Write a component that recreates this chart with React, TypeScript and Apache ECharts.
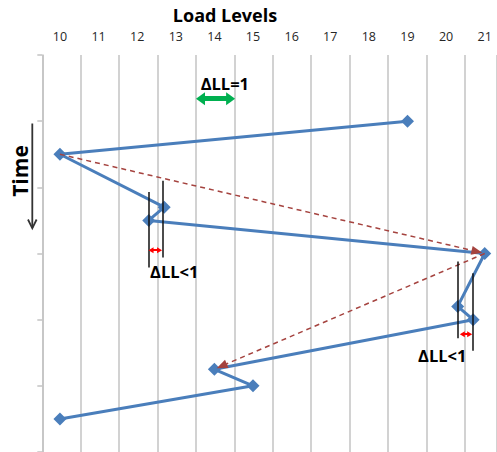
import React, { useEffect, useRef } from "react";
import * as echarts from "echarts";

// Main series: load level visited at each time step
const loadLevels = [19, 10, 12.7, 12.3, 21, 20.3, 20.7, 14, 15, 10];
const timeSteps = [1, 1.5, 2.3, 2.5, 3, 3.8, 4, 4.75, 5, 5.5];

// Axis tick labels
const loadTicks = [10, 11, 12, 13, 14, 15, 16, 17, 18, 19, 20, 21];

// Dashed "jump" arrows (from -> to)
const jumpFromX = [10, 21];
const jumpFromY = [1.5, 3];
const jumpToX = [20.8, 14.19];
const jumpToY = [2.97, 4.7];

// Black vertical marker bars for the ΔLL<1 annotations
const barX = [12.3, 12.66, 20.31, 20.68];
const barTop = [2.07, 1.9, 3.12, 3.3];
const barBottom = [3.21, 3.06, 4.28, 4.47];

// Red small double arrows
const redFromX = [12.36, 20.42];
const redToX = [12.58, 20.61];
const redY = [2.95, 4.22];

// Green ΔLL=1 double arrow
const greenFromX = [13.64];
const greenToX = [14.42];
const greenY = [0.66];

// Annotation texts
const noteText = ["ΔLL=1", "ΔLL<1", "ΔLL<1"];
const noteX = [14.27, 12.96, 19.9];
const noteY = [0.43, 3.27, 4.54];

const FONT = "'Open Sans', 'DejaVu Sans', sans-serif";

export default function App() {
  const ref = useRef<HTMLDivElement>(null);
  useEffect(() => {
    if (!ref.current) return;
    const chart = echarts.init(ref.current, undefined, { renderer: "svg" });

    const markLines: any[] = [];
    jumpFromX.forEach((_, i) => {
      markLines.push([
        {
          coord: [jumpFromX[i], jumpFromY[i]],
          symbol: "none",
          lineStyle: { color: "#A5433F", width: 1.5, type: [5, 4] },
        },
        { coord: [jumpToX[i], jumpToY[i]], symbol: "triangle", symbolSize: [9, 11] },
      ]);
    });
    barX.forEach((_, i) => {
      markLines.push([
        {
          coord: [barX[i], barTop[i]],
          symbol: "none",
          lineStyle: { color: "#111", width: 1.5, type: "solid" },
        },
        { coord: [barX[i], barBottom[i]], symbol: "none" },
      ]);
    });
    redY.forEach((_, i) => {
      markLines.push([
        {
          coord: [redFromX[i], redY[i]],
          symbol: "triangle",
          symbolSize: [6, 5],
          lineStyle: { color: "#FF0000", width: 2, type: "solid" },
          itemStyle: { color: "#FF0000" },
        },
        { coord: [redToX[i], redY[i]], symbol: "triangle", symbolSize: [6, 5] },
      ]);
    });
    greenY.forEach((_, i) => {
      markLines.push([
        {
          coord: [greenFromX[i], greenY[i]],
          symbol: "triangle",
          symbolSize: [13, 9],
          lineStyle: { color: "#00B050", width: 5, type: "solid" },
          itemStyle: { color: "#00B050" },
        },
        { coord: [greenToX[i], greenY[i]], symbol: "triangle", symbolSize: [13, 9] },
      ]);
    });

    const notes = noteText.map((t, i) => ({
      name: t,
      coord: [noteX[i], noteY[i]],
    }));

    chart.setOption({
      animation: false,
      grid: { left: 42.3, right: -2, top: 55, height: 398.4 },
      graphic: [
        {
          type: "text",
          x: 225,
          y: 15,
          style: {
            text: "Load Levels",
            font: `bold 18px ${FONT}`,
            fill: "#000",
            textAlign: "center",
            textVerticalAlign: "middle",
          },
        },
        {
          type: "text",
          x: 19.5,
          y: 171,
          rotation: Math.PI / 2,
          style: {
            text: "Time",
            font: `bold 21px ${FONT}`,
            fill: "#000",
            textAlign: "center",
            textVerticalAlign: "middle",
          },
        },
        {
          type: "line",
          shape: { x1: 32.3, y1: 123.5, x2: 32.3, y2: 228 },
          style: { stroke: "#333", lineWidth: 1.8 },
        },
        {
          type: "polyline",
          shape: { points: [[28, 219.5], [32.3, 228.3], [36.6, 219.5]] },
          style: { stroke: "#333", lineWidth: 1.8, fill: null },
        },
      ],
      xAxis: [
        {
          type: "value",
          position: "top",
          min: 9.544,
          max: 21.318,
          axisLine: { show: false },
          axisTick: { show: false },
          splitLine: { show: false },
          axisLabel: {
            customValues: loadTicks,
            margin: 12,
            fontSize: 12.5,
            fontFamily: FONT,
            color: "#262626",
          },
        },
        {
          type: "value",
          position: "top",
          min: 0,
          max: 11.838,
          interval: 1,
          axisLine: { show: false },
          axisTick: { show: false },
          axisLabel: { show: false },
          splitLine: { show: true, lineStyle: { color: "#c3c3c3", width: 1.5 } },
        },
      ],
      yAxis: {
        type: "value",
        inverse: true,
        min: 0,
        max: 6,
        interval: 1,
        axisLine: { show: true, lineStyle: { color: "#c3c3c3", width: 1.5 } },
        axisTick: { show: true, length: 5, lineStyle: { color: "#c3c3c3", width: 1.5 } },
        axisLabel: { show: false },
        splitLine: { show: false },
      },
      series: [
        {
          type: "line",
          xAxisIndex: 0,
          data: loadLevels.map((x, i) => [x, timeSteps[i]]),
          symbol: "diamond",
          symbolSize: 13,
          lineStyle: { color: "#4A7EBB", width: 3 },
          itemStyle: { color: "#4A7EBB" },
          clip: false,
          silent: true,
          markLine: {
            silent: true,
            label: { show: false },
            emphasis: { disabled: true },
            data: markLines,
          },
          markPoint: {
            silent: true,
            symbol: "circle",
            symbolSize: 0,
            label: {
              show: true,
              position: "inside",
              formatter: (p: any) => p.name,
              fontFamily: FONT,
              fontWeight: "bold",
              fontSize: 16.5,
              color: "#000",
            },
            data: notes,
          },
        },
      ],
    });
    return () => chart.dispose();
  }, []);
  return (
    <div
      ref={ref}
      style={{ position: "absolute", left: 0, top: 0, width: 497, height: 452 }}
    />
  );
}
